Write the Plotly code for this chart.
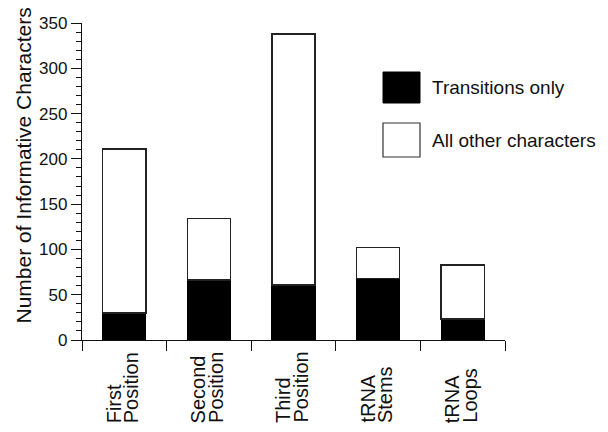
import plotly.graph_objects as go

# Informative characters per partition
categories = ["First\nPosition", "Second\nPosition", "Third\nPosition", "tRNA\nStems", "tRNA\nLoops"]
transitions_only = [30, 66, 61, 68, 23]
all_characters = [211, 134, 338, 102, 83]
other_characters = [t - s for t, s in zip(all_characters, transitions_only)]

y_ticks = [0, 50, 100, 150, 200, 250, 300, 350]
series_names = ["Transitions only", "All other characters"]

FONT = "Liberation Sans, Arial, Helvetica, sans-serif"
INK = "#111111"

W, H = 608, 432
ML, MR, MT, MB = 82, 103, 23, 92
PW, PH = W - ML - MR, H - MT - MB


def px_x(px):
    return (px - ML) / PW


def px_y(py):
    return (H - MB - py) / PH


x_idx = list(range(len(categories)))

fig = go.Figure()
fig.add_trace(go.Bar(
    x=x_idx, y=transitions_only, name=series_names[0], width=0.51,
    marker=dict(color="#000000", line=dict(color="#000000", width=1.2)),
    showlegend=False,
))
fig.add_trace(go.Bar(
    x=x_idx, y=other_characters, name=series_names[1], width=0.51,
    marker=dict(color="#ffffff", line=dict(color="#222222", width=1.5)),
    showlegend=False,
))

# Two-line category labels, rotated and bottom-aligned
annotations = []
line_gap = 17
for i, label in enumerate(categories):
    lines = label.split("\n")
    n = len(lines)
    for j, line in enumerate(lines):
        annotations.append(dict(
            x=i, xref="x", y=px_y(425), yref="paper",
            text=line, showarrow=False, textangle=-90,
            xanchor="center", yanchor="bottom",
            xshift=(j - (n - 1) / 2) * line_gap - 2,
            font=dict(family=FONT, size=20, color=INK),
        ))

# Y axis title
annotations.append(dict(
    x=px_x(22.5), xref="paper", y=px_y(166), yref="paper",
    text="Number of Informative Characters", showarrow=False, textangle=-90,
    xanchor="center", yanchor="middle",
    font=dict(family=FONT, size=21, color=INK),
))

# Legend: large swatches with labels
shapes = [
    dict(type="rect", xref="paper", yref="paper",
         x0=px_x(383), x1=px_x(420), y0=px_y(103), y1=px_y(72),
         fillcolor="#000000", line=dict(color="#000000", width=1)),
    dict(type="rect", xref="paper", yref="paper",
         x0=px_x(383), x1=px_x(420), y0=px_y(157), y1=px_y(123),
         fillcolor="#ffffff", line=dict(color="#333333", width=1.2)),
]
for name, cy in zip(series_names, [88, 140]):
    annotations.append(dict(
        x=px_x(430), xref="paper", y=px_y(cy), yref="paper",
        text=name, showarrow=False, xanchor="left", yanchor="middle",
        font=dict(family=FONT, size=19, color=INK),
    ))

fig.update_layout(
    width=W, height=H, autosize=False,
    margin=dict(l=ML, r=MR, t=MT, b=MB, pad=0),
    paper_bgcolor="#ffffff", plot_bgcolor="#ffffff",
    barmode="stack",
    annotations=annotations, shapes=shapes,
    font=dict(family=FONT, color=INK),
)
fig.update_xaxes(
    type="linear", range=[-0.5, len(categories) - 0.5],
    tickvals=[i - 0.5 for i in range(len(categories) + 1)],
    showticklabels=False, ticks="outside", ticklen=10, tickwidth=1.3, tickcolor=INK,
    showline=True, linecolor=INK, linewidth=1.3,
    showgrid=False, zeroline=False,
)
fig.update_yaxes(
    range=[0, 350], tickvals=y_ticks, ticktext=[str(v) for v in y_ticks],
    ticks="outside", ticklen=10, tickwidth=1.3, tickcolor=INK,
    tickfont=dict(family=FONT, size=17, color=INK),
    minor=dict(dtick=10, ticks="outside", ticklen=5, tickwidth=1, tickcolor=INK),
    showline=True, linecolor=INK, linewidth=1.3,
    showgrid=False, zeroline=False,
)

fig.write_html("out.html")
